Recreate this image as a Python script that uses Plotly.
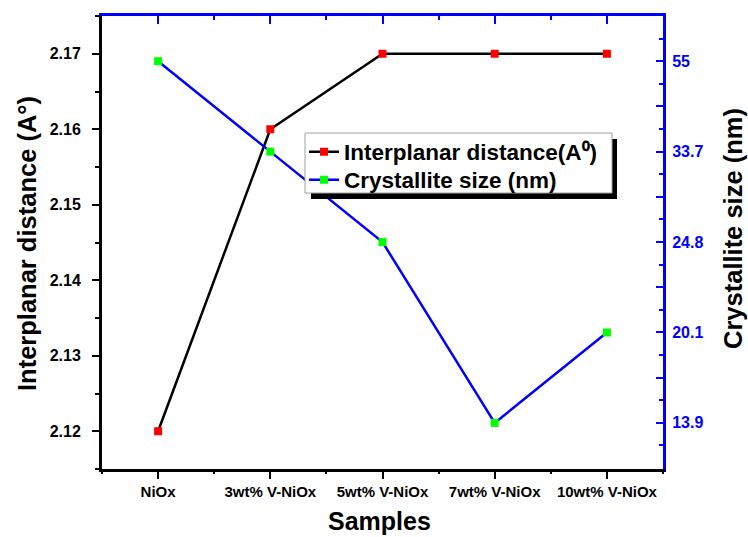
import plotly.graph_objects as go

samples = ["NiOx", "3wt% V-NiOx", "5wt% V-NiOx", "7wt% V-NiOx", "10wt% V-NiOx"]
interplanar = [2.12, 2.16, 2.17, 2.17, 2.17]
crystallite = ["55", "33.7", "24.8", "13.9", "20.1"]
size_ticks = ["13.9", "20.1", "24.8", "33.7", "55"]

FONT = "Liberation Sans, Arial, sans-serif"
BLUE = "#0000FF"

W, H = 748, 537
L, R, T, B = 102, 85, 16, 68
PW = W - L - R
PH = H - T - B


def px(x):
    return (x - L) / PW


def py(y):
    return (H - B - y) / PH


fig = go.Figure()
fig.add_trace(go.Scatter(
    x=samples, y=interplanar, mode="lines+markers",
    name="Interplanar distance(A⁰)",
    line=dict(color="black", width=2.5),
    marker=dict(symbol="square", size=8, color="#FF0000"),
    xaxis="x", yaxis="y", legend="legend"))
fig.add_trace(go.Scatter(
    x=samples, y=crystallite, mode="lines+markers",
    name="Crystallite size (nm)",
    line=dict(color=BLUE, width=2.5),
    marker=dict(symbol="square", size=8, color="#00FF00"),
    xaxis="x", yaxis="y2", legend="legend2"))

tickfont_black = dict(family=FONT, size=16, color="black", weight="bold")
legend_font = dict(family=FONT, size=22.5, color="black", weight="bold")

fig.update_layout(
    width=W, height=H,
    margin=dict(l=L, r=R, t=T, b=B, pad=0),
    paper_bgcolor="white", plot_bgcolor="white",
    showlegend=True,
    legend=dict(
        x=px(304), y=py(152), xanchor="left", yanchor="middle",
        bgcolor="rgba(0,0,0,0)", borderwidth=0, font=legend_font, itemwidth=30,
    ),
    legend2=dict(
        x=px(304), y=py(180), xanchor="left", yanchor="middle",
        bgcolor="rgba(0,0,0,0)", borderwidth=0, font=legend_font, itemwidth=30,
    ),
    xaxis=dict(
        type="category", categoryorder="array", categoryarray=samples,
        range=[-0.5, 4.5], showline=True, linecolor="black", linewidth=3,
        ticks="outside", ticklen=7, tickwidth=2, tickcolor="black",
        tickfont=dict(family=FONT, size=15, color="black", weight="bold"),
        showgrid=False, zeroline=False, ticklabelstandoff=0,
    ),
    xaxis2=dict(
        overlaying="x", side="top", anchor="y", type="linear",
        range=[-0.5, 4.5], showline=True, linecolor=BLUE, linewidth=3,
        ticks="inside", ticklen=8, tickwidth=2, tickcolor=BLUE,
        dtick=1, tick0=0, showticklabels=False, showgrid=False, zeroline=False,
        minor=dict(ticks="inside", ticklen=4, tickwidth=2, tickcolor=BLUE,
                   dtick=0.5, tick0=0, showgrid=False),
    ),
    xaxis3=dict(
        overlaying="x", side="bottom", anchor="y", type="linear",
        range=[-0.5, 4.5], showline=False,
        ticks="outside", ticklen=4, tickwidth=2, tickcolor="black",
        dtick=1, tick0=0.5, showticklabels=False, showgrid=False, zeroline=False,
    ),
    yaxis=dict(
        range=[2.115, 2.175], dtick=0.01, tick0=2.12, tickformat=".2f",
        showline=True, linecolor="black", linewidth=3,
        ticks="outside", ticklen=7, tickwidth=2, tickcolor="black",
        tickfont=tickfont_black, showgrid=False, zeroline=False,
        ticklabelstandoff=8,
        minor=dict(ticks="outside", ticklen=4, tickwidth=2, tickcolor="black",
                   dtick=0.005, tick0=2.12, showgrid=False),
    ),
    yaxis2=dict(
        overlaying="y", side="right", anchor="x", type="category",
        categoryorder="array", categoryarray=size_ticks,
        range=[-0.51, 4.5], showline=True, linecolor=BLUE, linewidth=3,
        ticks="", tickfont=dict(family=FONT, size=16, color=BLUE, weight="bold"),
        showgrid=False, zeroline=False, ticklabelstandoff=3,
    ),
    yaxis3=dict(
        overlaying="y", side="right", anchor="x", type="linear",
        range=[-0.51, 4.5], showline=False,
        ticks="inside", ticklen=7, tickwidth=2, tickcolor=BLUE,
        dtick=0.5, tick0=0, showticklabels=False, showgrid=False, zeroline=False,
        minor=dict(ticks="inside", ticklen=4, tickwidth=2, tickcolor=BLUE,
                   dtick=0.25, tick0=0, showgrid=False),
    ),
)

# dummy invisible traces to activate helper axes
fig.add_trace(go.Scatter(x=[None], y=[None], xaxis="x2", yaxis="y", showlegend=False, hoverinfo="skip"))
fig.add_trace(go.Scatter(x=[None], y=[None], xaxis="x3", yaxis="y", showlegend=False, hoverinfo="skip"))
fig.add_trace(go.Scatter(x=[None], y=[None], xaxis="x", yaxis="y3", showlegend=False, hoverinfo="skip"))

# legend box with drop shadow
fig.add_shape(type="rect", xref="paper", yref="paper",
              x0=px(311), x1=px(617), y0=py(199), y1=py(139),
              fillcolor="black", line=dict(width=0), layer="above")
fig.add_shape(type="rect", xref="paper", yref="paper",
              x0=px(305), x1=px(612), y0=py(193), y1=py(133),
              fillcolor="white", line=dict(color="#A0A0A0", width=1), layer="above")

title_font = dict(family=FONT, size=25.5, color="black", weight="bold")
fig.add_annotation(text="Interplanar distance (A°)", xref="paper", yref="paper",
                   x=0, y=py(244), xshift=-(L - 27), xanchor="center", yanchor="middle",
                   textangle=-90, showarrow=False, font=title_font)
fig.add_annotation(text="Crystallite size (nm)", xref="paper", yref="paper",
                   x=1, y=py(229), xshift=(733 - (W - R)), xanchor="center", yanchor="middle",
                   textangle=-90, showarrow=False, font=title_font)
fig.add_annotation(text="Samples", xref="paper", yref="paper",
                   x=px(379), y=0, yshift=-(H - (H - B)), xanchor="center", yanchor="bottom",
                   showarrow=False, font=dict(family=FONT, size=25, color="black", weight="bold"))

fig.write_html("out.html")
